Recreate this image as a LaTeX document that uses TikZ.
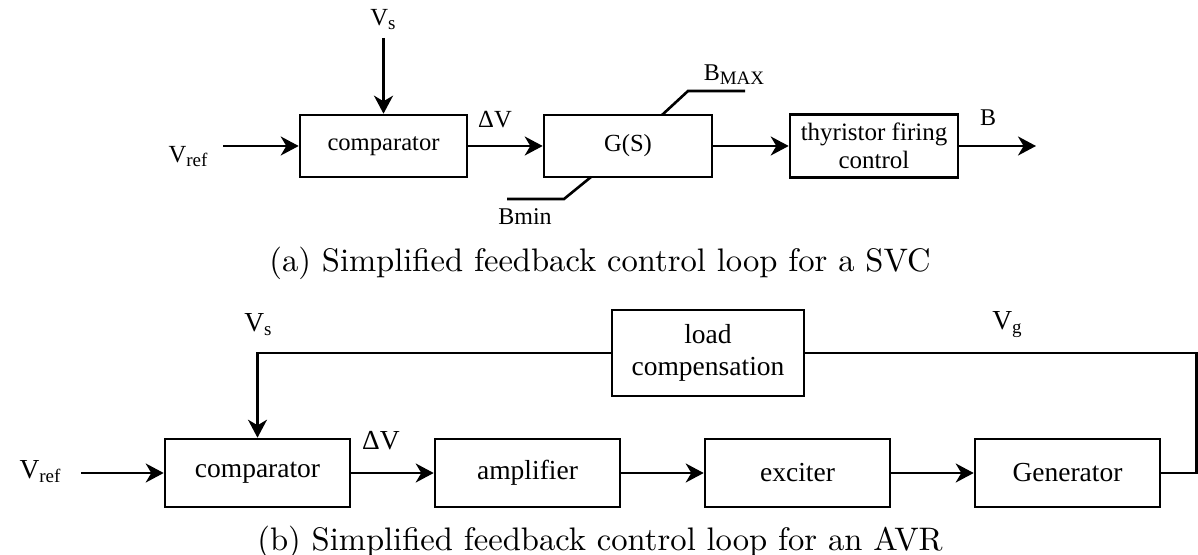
\documentclass[tikz,border=0pt]{standalone}
\usepackage{fontspec}
\newfontfamily\lab{Liberation Serif}
\newfontfamily\capf{lmroman10-regular.otf}
\usetikzlibrary{arrows.meta}
\newcommand\sbs[1]{\raisebox{-2pt}{\fontsize{9.5}{11}\selectfont #1}}
\tikzset{
 box/.style={draw, line width=1.3pt, inner sep=0pt, align=center, font=\lab\fontsize{13.75}{16}\selectfont},
 tbox/.style={box, font=\lab\fontsize{12.3}{14}\selectfont},
 conn/.style={line width=1.3pt},
 arr/.style={conn, -{Stealth[length=9pt,width=9.5pt,inset=2.8pt]}},
 lbl/.style={inner sep=0pt, font=\lab\fontsize{13.75}{16}\selectfont},
 tlbl/.style={inner sep=0pt, font=\lab\fontsize{12.3}{14}\selectfont},
 slbl/.style={inner sep=0pt, font=\lab\fontsize{12}{14}\selectfont},
 captxt/.style={inner sep=0pt, font=\capf\fontsize{16.3}{20}\selectfont},
}
\begin{document}
\begin{tikzpicture}[x=0.5pt,y=-0.5pt]
\useasboundingbox (0,0) rectangle (1198,555);
% ---- (a) SVC loop
\node[tbox, minimum width=83.5pt, minimum height=31pt] (c1) at (383.5,146) {comparator};
\node[tbox, minimum width=84pt, minimum height=31pt] (g1) at (628,146) {G(S)};
\node[tbox, minimum width=84pt, minimum height=31.5pt, font=\lab\fontsize{12.5}{14}\selectfont] (t1) at (874,146) {thyristor firing\\control};
\node[tlbl] (vs1) at (383,20) {V\sbs{s}};
\node[tlbl] (vr1) at (188,157) {V\sbs{ref}};
\coordinate (vs1a) at (383.5,38);
\coordinate (vr1a) at (223,146);
\coordinate (bout) at (1036,146);
\draw[arr] (vs1a) -- (c1.north);
\draw[arr] (vr1a) -- (c1.west);
\draw[arr] (c1.east) -- (g1.west);
\draw[arr] (g1.east) -- (t1.west);
\draw[arr] (t1.east) -- (bout);
\node[tlbl] (dv1) at (495,120) {ΔV};
\node[slbl] (b1) at (988,118) {B};
\coordinate (gtop) at (662,115);
\coordinate (bm1) at (688,91);
\coordinate (bm2) at (745,91);
\draw[conn] (gtop) -- (bm1) -- (bm2);
\node[slbl] (bmax) at (734,75) {B\sbs{MAX}};
\coordinate (gbot) at (591,177);
\coordinate (bn1) at (564,199);
\coordinate (bn2) at (507,199);
\draw[conn] (gbot) -- (bn1) -- (bn2);
\node[slbl] (bmin) at (525,217) {Bmin};
\node[captxt] (capa) at (600,263) {(a) Simplified feedback control loop for a SVC};
% ---- (b) AVR loop
\node[box, minimum width=96pt, minimum height=43pt] (lc) at (708,353) {load\\compensation};
\node[box, minimum width=92.5pt, minimum height=34pt] (c2) at (257.5,473) {comparator};
\node[box, minimum width=92.5pt, minimum height=34pt] (amp) at (527.5,473) {amplifier};
\node[box, minimum width=92.5pt, minimum height=34pt] (exc) at (797.5,473) {exciter};
\node[box, minimum width=92.5pt, minimum height=34pt] (gen) at (1067.5,473) {Generator};
\node[lbl] (vs2) at (258,325) {V\sbs{s}};
\node[lbl] (vr2) at (40,472) {V\sbs{ref}};
\node[lbl] (dv2) at (381,441) {ΔV};
\node[lbl] (vg) at (1007,325) {V\sbs{g}};
\coordinate (vr2a) at (81,473);
\coordinate (fbR) at (1196.5,473);
\coordinate (fbRT) at (1196.5,353);
\coordinate (fbL) at (257.5,353);
\draw[arr] (vr2a) -- (c2.west);
\draw[arr] (c2.east) -- (amp.west);
\draw[arr] (amp.east) -- (exc.west);
\draw[arr] (exc.east) -- (gen.west);
\draw[conn] (gen.east) -- (fbR) -- (fbRT) -- (lc.east);
\draw[arr] (lc.west) -- (fbL) -- (c2.north);
\node[captxt] (capb) at (600,542) {(b) Simplified feedback control loop for an AVR};
\end{tikzpicture}
\end{document}
